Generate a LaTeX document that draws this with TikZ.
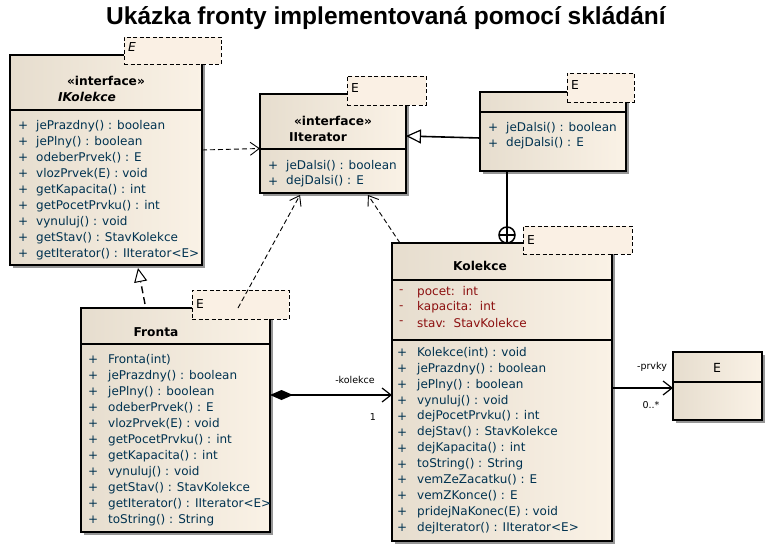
\documentclass[tikz,border=0pt]{standalone}
\usepackage{fontspec}
\setmainfont{DejaVu Sans}
\newfontfamily\titlefont{Liberation Sans}
\usetikzlibrary{arrows.meta,shadows,calc}
\definecolor{clsL}{RGB}{230,221,206}
\definecolor{clsR}{RGB}{250,242,230}
\definecolor{tmplc}{RGB}{250,240,228}
\definecolor{shadowc}{RGB}{150,150,150}
\definecolor{methc}{RGB}{0,50,80}
\definecolor{attrc}{RGB}{140,15,15}
\tikzset{
  cls/.style={draw=black, line width=1.6pt, left color=clsL, right color=clsR,
    general shadow={fill=shadowc, shadow xshift=3pt, shadow yshift=-3pt},
    inner sep=0pt, outer sep=0pt, anchor=north west},
  tmpl/.style={draw=black, dashed, dash pattern=on 4pt off 2.5pt, fill=tmplc, line width=0.9pt,
    inner sep=0pt, outer sep=0pt, anchor=north west},
  sep/.style={line width=1.6pt},
  txt/.style={inner sep=0pt, font=\fontsize{12}{14}\selectfont},
  meth/.style={txt, anchor=west, text=methc},
  attr/.style={txt, anchor=west, text=attrc},
  ttl/.style={txt, font=\fontsize{12.2}{14}\selectfont\bfseries, text=black},
  tl/.style={inner sep=0pt, anchor=west, font=\fontsize{12.3}{14}\selectfont},
  lbl/.style={inner sep=0pt, font=\fontsize{9.5}{11}\selectfont},
  dep/.style={dashed, dash pattern=on 5pt off 3pt, line width=0.9pt, -{Straight Barb[length=9pt,width=13pt,line width=0.9pt]}},
  conn/.style={line width=1.6pt},
}
\begin{document}
\begin{tikzpicture}[x=1pt,y=-1pt]
\useasboundingbox (0,0) rectangle (773,551);
\fill[white] (0,0) rectangle (773,551);

\node[inner sep=0pt, font=\titlefont\fontsize{24.5}{28}\selectfont\bfseries] (title) at (386,18) {Ukázka fronty implementovaná pomocí skládání};

% ---------- IKolekce ----------
\node[cls, minimum width=192, minimum height=210] (ik) at (10,55) {};
\draw[sep] (ik.west |- 0,110) -- (ik.east |- 0,110);
\node[tmpl, minimum width=97, minimum height=27] (ikt) at (124,37) {};
\node[tl, font=\fontsize{12.3}{14}\selectfont\itshape] (iktE) at (128,47) {E};
\node[ttl] (ikst) at (106,81) {«interface»};
\node[ttl, font=\fontsize{12.2}{14}\selectfont\bfseries\itshape] (ikname) at (87,97) {IKolekce};
\foreach \t [count=\i] in {jePrazdny() : boolean, jePlny() : boolean, odeberPrvek() : E, vlozPrvek(E) : void, getKapacita() : int, getPocetPrvku() : int, vynuluj() : void, getStav() : StavKolekce, getIterator() : IIterator<E>}{
  \node[meth] (ikp\i) at (18,{126+16*(\i-1)}) {+};
  \node[meth] (ikm\i) at (36,{126+16*(\i-1)}) {\t};
}

% ---------- IIterator ----------
\node[cls, minimum width=146, minimum height=99] (it) at (260,94) {};
\draw[sep] (it.west |- 0,149) -- (it.east |- 0,149);
\node[tmpl, minimum width=79, minimum height=29] (itt) at (347,76) {};
\node[tl] (ittE) at (351,88) {E};
\node[ttl] (itst) at (333,121) {«interface»};
\node[ttl] (itname) at (318,137) {IIterator};
\foreach \t [count=\i] in {jeDalsi() : boolean, dejDalsi() : E}{
  \node[meth] (itp\i) at (268,{166+15.5*(\i-1)}) {+};
  \node[meth] (itm\i) at (286,{166+15.5*(\i-1)}) {\t};
}

% ---------- inner iterator ----------
\node[cls, minimum width=146, minimum height=79] (in) at (480,92) {};
\draw[sep] (in.west |- 0,112) -- (in.east |- 0,112);
\node[tmpl, minimum width=67, minimum height=29] (int) at (567,73) {};
\node[tl] (intE) at (571,85) {E};
\foreach \t [count=\i] in {jeDalsi() : boolean, dejDalsi() : E}{
  \node[meth] (inp\i) at (488,{128+15.5*(\i-1)}) {+};
  \node[meth] (inm\i) at (506,{128+15.5*(\i-1)}) {\t};
}

% ---------- Kolekce ----------
\node[cls, minimum width=220, minimum height=298] (ko) at (392,243) {};
\draw[sep] (ko.west |- 0,280) -- (ko.east |- 0,280);
\draw[sep] (ko.west |- 0,340) -- (ko.east |- 0,340);
\node[tmpl, minimum width=109, minimum height=28] (kot) at (523,226) {};
\node[tl] (kotE) at (527,240) {E};
\node[ttl] (koname) at (480,266) {Kolekce};
\foreach \t [count=\i] in {pocet:\ \ int, kapacita:\ \ int, stav:\ \ StavKolekce}{
  \node[attr] (kam\i) at (399,{292+15.5*(\i-1)}) {-};
  \node[attr] (kan\i) at (417,{292+15.5*(\i-1)}) {\t};
}
\foreach \t [count=\i] in {Kolekce(int) : void, jePrazdny() : boolean, jePlny() : boolean, vynuluj() : void, dejPocetPrvku() : int, dejStav() : StavKolekce, dejKapacita() : int, toString() : String, vemZeZacatku() : E, vemZKonce() : E, pridejNaKonec(E) : void, dejIterator() : IIterator<E>}{
  \node[meth] (kop\i) at (397,{353+15.9*(\i-1)}) {+};
  \node[meth] (kom\i) at (417,{353+15.9*(\i-1)}) {\t};
}

% ---------- E ----------
\node[cls, minimum width=89, minimum height=68] (ee) at (673,352) {};
\draw[sep] (ee.west |- 0,382) -- (ee.east |- 0,382);
\node[txt, font=\fontsize{12.5}{14}\selectfont] (eename) at (717,368) {E};

% ---------- Fronta ----------
\node[cls, minimum width=189, minimum height=224] (fr) at (81,308) {};
\draw[sep] (fr.west |- 0,344) -- (fr.east |- 0,344);
\node[tmpl, minimum width=97, minimum height=29] (frt) at (192,290) {};
\node[tl] (frtE) at (196,304) {E};
\node[ttl] (frname) at (156,332) {Fronta};
\foreach \t [count=\i] in {Fronta(int), jePrazdny() : boolean, jePlny() : boolean, odeberPrvek() : E, vlozPrvek(E) : void, getPocetPrvku() : int, getKapacita() : int, vynuluj() : void, getStav() : StavKolekce, getIterator() : IIterator<E>, toString() : String}{
  \node[meth] (frp\i) at (88,{360+16*(\i-1)}) {+};
  \node[meth] (frm\i) at (108,{360+16*(\i-1)}) {\t};
}

% ---------- connectors ----------
% realization Fronta -> IKolekce
\coordinate (frA) at ($(fr.north west)+(64,-4)$);
\coordinate (ikA) at ($(ik.south west)+(128,3)$);
\draw[dashed, dash pattern=on 7pt off 4pt, line width=1.4pt, -{Triangle[open,length=14pt,width=13pt,line width=1pt,fill=white]}] (frA) -- (ikA);

% dependency IKolekce -> IIterator
\coordinate (ikB) at ($(ik.east)+(0,-10)$);
\coordinate (itB) at ($(it.west)+(0,5)$);
\draw[dep] (ikB) -- (itB);

% dependency Fronta -> IIterator
\coordinate (frB) at ($(fr.north west)+(157,0)$);
\coordinate (itC) at ($(it.south west)+(40,2)$);
\draw[dep] (frB) -- (itC);

% dependency Kolekce -> IIterator
\coordinate (koB) at ($(ko.north west)+(8,0)$);
\coordinate (itD) at ($(it.south west)+(108,2)$);
\draw[dep] (koB) -- (itD);

% generalization inner -> IIterator
\draw[conn, -{Triangle[open,length=15pt,width=14pt,line width=1.2pt,fill=white]}] (in.west |- 0,138) -- (it.east |- 0,136);

% nesting
\node[circle, draw, line width=1.5pt, minimum size=16, inner sep=0pt, outer sep=0pt] (nest) at (507,235) {};
\draw[line width=1.5pt] (nest.north) -- (nest.south) (nest.west) -- (nest.east);
\draw[conn] (in.south -| nest.center) -- (nest.north);

% composition Fronta -> Kolekce
\draw[conn, {Diamond[length=23pt,width=10pt]}-{Straight Barb[length=9pt,width=14pt,line width=1.2pt]}] (fr.east |- 0,395) -- (ko.west |- 0,395);
\node[lbl] (lkol) at (355,380) {-kolekce};
\node[lbl] (lone) at (373,417) {1};

% association Kolekce -> E
\draw[conn, -{Straight Barb[length=9pt,width=14pt,line width=1.2pt]}] (ko.east |- 0,388) -- (ee.west |- 0,388);
\node[lbl] (lprv) at (652,367) {-prvky};
\node[lbl] (lmul) at (651,405) {0..*};
\end{tikzpicture}
\end{document}
